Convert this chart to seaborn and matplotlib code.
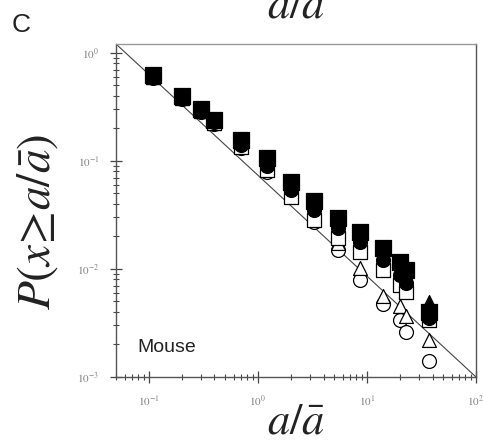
import numpy as np
import pandas as pd
import matplotlib
matplotlib.use("Agg")
import matplotlib.pyplot as plt
import seaborn as sns
from matplotlib.ticker import LogLocator, NullFormatter

sns.set_theme(style="white")
plt.rcParams['mathtext.fontset'] = 'stix'
plt.rcParams['font.family'] = ['Liberation Serif', 'DejaVu Sans']

# ---- data ----
x_vals = [0.11, 0.2, 0.3, 0.4, 0.7, 1.2, 2.0, 3.3, 5.4, 8.6, 14, 20, 23, 37]
filled_square = [0.625, 0.40, 0.303, 0.240, 0.157, 0.107, 0.064, 0.043, 0.0297, 0.0220, 0.0156, 0.0116, 0.0098, 0.0040]
filled_circle = [0.60, 0.383, 0.29, 0.23, 0.141, 0.090, 0.054, 0.035, 0.024, 0.0177, 0.0121, 0.0088, 0.0074, 0.0035]
filled_triangle = [0.64, 0.41, 0.31, 0.245, 0.153, 0.102, 0.061, 0.041, 0.027, 0.020, 0.0138, 0.0102, 0.0086, 0.0049]
open_square = [0.60, 0.383, 0.29, 0.225, 0.135, 0.083, 0.0465, 0.0285, 0.0194, 0.0144, 0.0098, 0.0071, 0.0061, 0.0034]
open_circle = [0.587, 0.375, 0.284, 0.22, 0.132, 0.079, 0.0475, 0.027, 0.0151, 0.0079, 0.0047, 0.0034, 0.0026, 0.0014]
open_triangle = [0.60, 0.383, 0.29, 0.225, 0.138, 0.086, 0.0497, 0.0297, 0.0174, 0.0102, 0.0056, 0.0045, 0.0037, 0.0022]
fit_x = [0.05, 100]
fit_y = [1.21, 0.001]
xtick_vals = [0.1, 1, 10, 100]
xtick_labels = [r'$10^{-1}$', r'$10^{0}$', r'$10^{1}$', r'$10^{2}$']
ytick_vals = [0.001, 0.01, 0.1, 1]
ytick_labels = [r'$10^{-3}$', r'$10^{-2}$', r'$10^{-1}$', r'$10^{0}$']

fig = plt.figure(figsize=(4.83, 4.43), dpi=100)
ax = fig.add_axes([116/483, 1-377/443, (476-116)/483, (377-44)/443])

sns.lineplot(x=fit_x, y=fit_y, ax=ax, color='#444444', linewidth=0.8, zorder=1)

series = [
    (open_circle, 'o', 'white', 10),
    (open_triangle, '^', 'white', 10),
    (open_square, 's', 'white', 10),
    (filled_circle, 'o', 'black', 10),
    (filled_triangle, '^', 'black', 10),
    (filled_square, 's', 'black', 11),
]
for vals, mk, fc, ms in series:
    df = pd.DataFrame({'x': x_vals, 'y': vals})
    sns.scatterplot(data=df, x='x', y='y', ax=ax, marker=mk, s=ms**2,
                    facecolor=fc, edgecolor='black', linewidth=0.9, zorder=3)

ax.set_xscale('log')
ax.set_yscale('log')
ax.set_xlim(0.05, 100)
ax.set_ylim(0.001, 1.21)
ax.set_xticks(xtick_vals)
ax.set_xticklabels(xtick_labels)
ax.set_yticks(ytick_vals)
ax.set_yticklabels(ytick_labels)
ax.xaxis.set_minor_locator(LogLocator(base=10, subs=np.arange(2, 10)))
ax.yaxis.set_minor_locator(LogLocator(base=10, subs=np.arange(2, 10)))
ax.xaxis.set_minor_formatter(NullFormatter())
ax.yaxis.set_minor_formatter(NullFormatter())
ax.tick_params(which='major', direction='inout', length=8, width=0.9, color='#444444',
               labelsize=8, labelcolor='#808080', bottom=True, left=True, pad=8)
ax.tick_params(which='minor', direction='inout', length=5, width=0.8, color='#444444',
               bottom=True, left=True)
for side, sp in ax.spines.items():
    sp.set_visible(True)
    sp.set_linewidth(1.0)
    sp.set_color('#555555')
ax.spines['top'].set_color('#999999')
ax.set_xlabel('')
ax.set_ylabel('')

fig.text(137/483, 1-352/443, 'Mouse', fontsize=14, family=['Liberation Sans', 'DejaVu Sans'],
         color='#222222', ha='left', va='baseline')

fig.text(12/483, 1-32/443, 'C', fontsize=19, family=['Liberation Sans', 'DejaVu Sans'],
         color='#222222', ha='left', va='baseline')
fig.text(296/483, 1-17/443, r'$a/\bar{a}$', fontsize=32, color='#222222',
         ha='center', va='baseline')
fig.text(296/483, 1-433/443, r'$a/\bar{a}$', fontsize=32, color='#222222',
         ha='center', va='baseline')
fig.text(38/483, 1-222/443, r'$P(x\!\geq\! a/\bar{a})$', fontsize=34, color='#222222',
         ha='center', va='center', rotation=90)

fig.savefig('out.png', dpi=100)
